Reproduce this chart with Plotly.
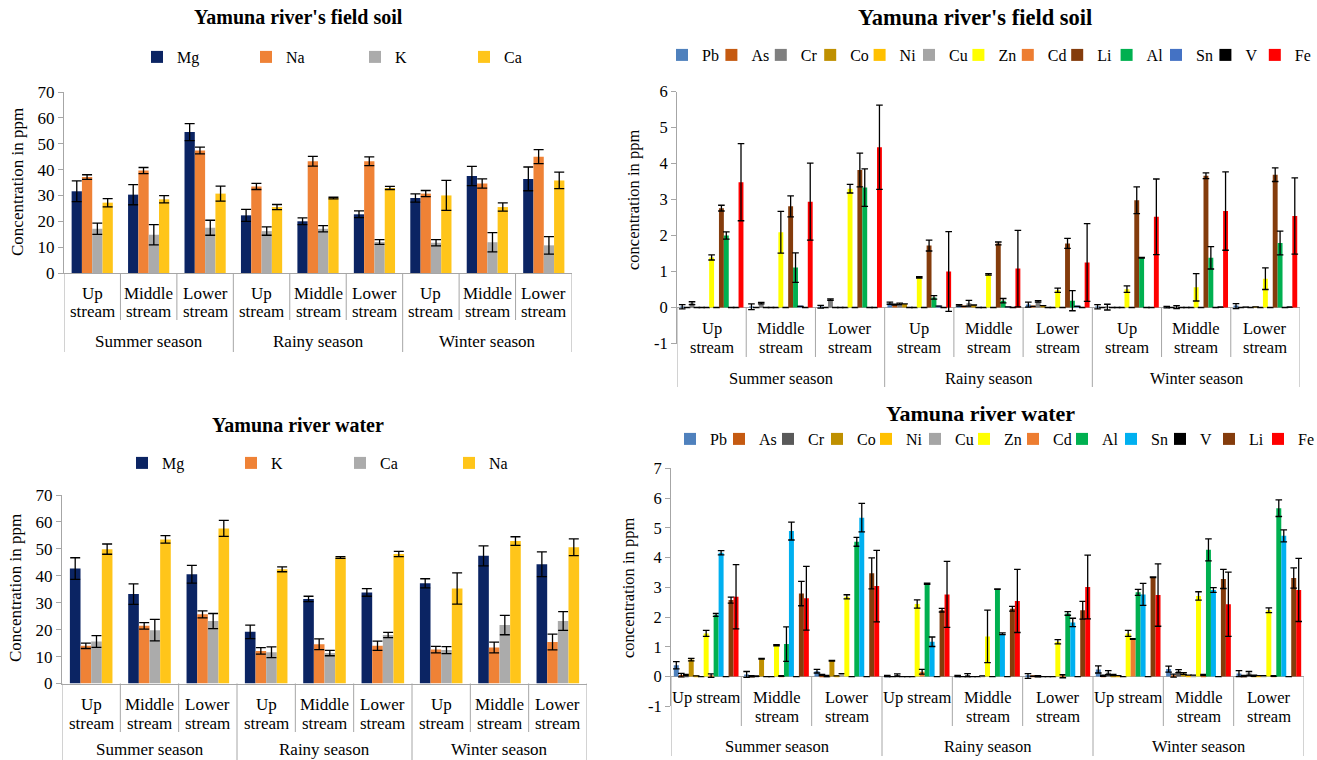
import plotly.graph_objects as go

W, H = 1317, 760
FONT = "Liberation Serif, Times New Roman, serif"

# ---------------------------------------------------------------- categories
streams = ["Up stream", "Middle stream", "Lower stream"]
seasons = ["Summer season", "Rainy season", "Winter season"]
sites = [(s, st) for s in seasons for st in streams]

# ---------------------------------------------------------------- field soil, major cations (ppm)
soil_major_names = ["Mg", "Na", "K", "Ca"]
soil_mg = [31.6, 30.3, 54.5, 22.3, 20.0, 22.7, 29.0, 37.5, 36.4]
soil_mg_err = [4.0, 3.9, 3.3, 2.3, 1.3, 1.3, 1.6, 3.7, 4.6]
soil_na = [37.1, 39.6, 47.4, 33.5, 43.2, 43.2, 30.7, 34.6, 45.0]
soil_na_err = [0.9, 1.2, 1.3, 1.2, 1.9, 1.7, 1.2, 1.8, 2.7]
soil_k = [17.1, 14.8, 17.5, 16.2, 17.1, 12.0, 11.7, 11.9, 10.7]
soil_k_err = [2.2, 3.9, 2.9, 1.6, 1.2, 0.9, 1.2, 3.7, 3.4]
soil_ca = [27.2, 28.5, 30.7, 25.5, 29.0, 32.9, 30.0, 25.5, 35.8]
soil_ca_err = [1.6, 1.4, 2.9, 1.0, 0.3, 0.6, 5.8, 1.6, 3.2]

# ---------------------------------------------------------------- river water, major cations (ppm)
water_major_names = ["Mg", "K", "Ca", "Na"]
water_mg = [42.7, 33.2, 40.6, 19.2, 31.4, 33.8, 37.2, 47.4, 44.3]
water_mg_err = [4.0, 3.8, 3.3, 2.5, 1.0, 1.4, 1.7, 3.7, 4.6]
water_k = [14.0, 21.4, 25.7, 12.1, 14.6, 14.0, 12.6, 13.4, 15.4]
water_k_err = [1.0, 1.2, 1.3, 1.2, 2.0, 1.7, 1.2, 2.0, 2.9]
water_ca = [15.6, 19.8, 23.2, 11.6, 11.3, 18.0, 12.4, 21.7, 23.2]
water_ca_err = [2.2, 4.0, 2.8, 2.0, 1.0, 1.0, 1.3, 3.6, 3.5]
water_na = [49.9, 53.5, 57.6, 42.4, 46.8, 48.1, 35.3, 52.9, 50.6]
water_na_err = [1.9, 1.4, 3.0, 0.9, 0.3, 1.0, 5.8, 1.6, 3.1]

# ---------------------------------------------------------------- field soil, trace metals (ppm)
soil_trace_names = ["Pb", "As", "Cr", "Co", "Ni", "Cu", "Zn", "Cd", "Li", "Al", "Sn", "V", "Fe"]
soil_pb = [0.02, 0.02, 0.02, 0.12, 0.06, 0.08, 0.02, 0.01, 0.04]
soil_pb_err = [0.06, 0.08, 0.04, 0.03, 0.02, 0.07, 0.06, 0.02, 0.07]
soil_as = [0.0, 0.0, 0.0, 0.08, 0.03, 0.03, 0.0, 0.0, 0.0]
soil_as_err = [0.0, 0.0, 0.0, 0.01, 0.0, 0.0, 0.0, 0.0, 0.0]
soil_cr = [0.12, 0.12, 0.22, 0.1, 0.12, 0.17, 0.01, 0.01, 0.01]
soil_cr_err = [0.04, 0.02, 0.02, 0.02, 0.08, 0.02, 0.08, 0.04, 0.0]
soil_co = [0.0, 0.0, 0.0, 0.1, 0.07, 0.05, 0.0, 0.0, 0.0]
soil_co_err = [0.0] * 9
soil_ni = [0.0, 0.0, 0.0, 0.0, 0.0, 0.0, 0.0, 0.0, 0.02]
soil_ni_err = [0.0] * 9
soil_cu = [0.0] * 9
soil_cu_err = [0.0] * 9
soil_zn = [1.39, 2.09, 3.3, 0.84, 0.92, 0.48, 0.51, 0.56, 0.8]
soil_zn_err = [0.07, 0.58, 0.12, 0.02, 0.02, 0.06, 0.09, 0.38, 0.3]
soil_cd = [0.0] * 9
soil_cd_err = [0.0] * 9
soil_li = [2.76, 2.81, 3.82, 1.72, 1.78, 1.78, 2.98, 3.66, 3.69]
soil_li_err = [0.08, 0.29, 0.47, 0.15, 0.04, 0.14, 0.37, 0.08, 0.19]
soil_al = [2.0, 1.11, 3.33, 0.28, 0.19, 0.19, 1.38, 1.38, 1.79]
soil_al_err = [0.1, 0.41, 0.52, 0.05, 0.06, 0.28, 0.01, 0.31, 0.33]
soil_sn = [0.0, 0.03, 0.0, 0.04, 0.02, 0.03, 0.0, 0.0, 0.0]
soil_sn_err = [0.0] * 9
soil_v = [0.0, 0.0, 0.0, 0.0, 0.0, 0.0, 0.0, 0.01, 0.01]
soil_v_err = [0.0] * 9
soil_fe = [3.48, 2.94, 4.45, 1.0, 1.08, 1.25, 2.52, 2.68, 2.54]
soil_fe_err = [1.07, 1.07, 1.17, 1.11, 1.06, 1.08, 1.05, 1.09, 1.06]

# ---------------------------------------------------------------- river water, trace metals (ppm)
water_trace_names = ["Pb", "As", "Cr", "Co", "Ni", "Cu", "Zn", "Cd", "Al", "Sn", "V", "Li", "Fe"]
water_pb = [0.38, 0.07, 0.18, 0.02, 0.02, 0.02, 0.24, 0.25, 0.1]
water_pb_err = [0.12, 0.1, 0.06, 0.02, 0.02, 0.08, 0.12, 0.1, 0.1]
water_as = [0.05, 0.01, 0.05, 0.0, 0.0, 0.01, 0.03, 0.03, 0.02]
water_as_err = [0.06, 0.02, 0.02, 0.0, 0.0, 0.0, 0.02, 0.05, 0.02]
water_cr = [0.05, 0.01, 0.02, 0.05, 0.05, 0.01, 0.13, 0.18, 0.1]
water_cr_err = [0.02, 0.0, 0.02, 0.04, 0.05, 0.02, 0.07, 0.05, 0.07]
water_co = [0.57, 0.6, 0.53, 0.0, 0.0, 0.0, 0.05, 0.1, 0.03]
water_co_err = [0.04, 0.01, 0.01, 0.0, 0.0, 0.0, 0.02, 0.03, 0.02]
water_ni = [0.02, 0.0, 0.02, 0.0, 0.0, 0.0, 0.03, 0.05, 0.03]
water_ni_err = [0.0] * 9
water_cu = [0.0, 0.0, 0.1, 0.0, 0.02, 0.0, 0.0, 0.05, 0.03]
water_cu_err = [0.0] * 9
water_zn = [1.45, 1.05, 2.68, 2.44, 1.35, 1.17, 1.45, 2.71, 2.23]
water_zn_err = [0.1, 0.02, 0.07, 0.14, 0.88, 0.07, 0.1, 0.14, 0.08]
water_cd = [0.03, 0.02, 0.0, 0.16, 0.0, 0.01, 1.26, 0.05, 0.02]
water_cd_err = [0.06, 0.01, 0.0, 0.08, 0.0, 0.05, 0.01, 0.02, 0.01]
water_al = [2.07, 1.09, 4.53, 3.12, 2.94, 2.12, 2.83, 4.26, 5.66]
water_al_err = [0.05, 0.58, 0.15, 0.02, 0.01, 0.06, 0.1, 0.37, 0.28]
water_sn = [4.16, 4.89, 5.34, 1.17, 1.44, 1.82, 2.76, 2.91, 4.73]
water_sn_err = [0.07, 0.3, 0.48, 0.16, 0.03, 0.14, 0.37, 0.08, 0.2]
water_v = [0.0] * 9
water_v_err = [0.0] * 9
water_li = [2.57, 2.79, 3.47, 2.23, 2.28, 2.23, 3.34, 3.28, 3.31]
water_li_err = [0.1, 0.41, 0.52, 0.06, 0.08, 0.3, 0.01, 0.32, 0.34]
water_fe = [2.68, 2.63, 3.04, 2.76, 2.54, 3.01, 2.74, 2.43, 2.91]
water_fe_err = [1.08, 1.07, 1.2, 1.11, 1.06, 1.07, 1.05, 1.08, 1.06]

# ---------------------------------------------------------------- colours
major_soil_colors = ["#0B2463", "#EF8236", "#ABABAB", "#FFC51A"]
major_water_colors = ["#0B2463", "#EF8236", "#ABABAB", "#FFC51A"]
soil_trace_colors = ["#4F81BD", "#C55A11", "#7F7F7F", "#BF9000", "#FFC000", "#A5A5A5",
                     "#FFFF00", "#ED7D31", "#843C0C", "#00B050", "#4472C4", "#000000", "#FF0000"]
water_trace_colors = ["#4F81BD", "#C55A11", "#595959", "#BF9000", "#FFC000", "#A5A5A5",
                      "#FFFF00", "#ED7D31", "#00B050", "#00B0F0", "#000000", "#843C0C", "#FF0000"]

AXIS_GRAY = "#A6A6A6"


def fx(x):
    return x / W


def fy(y):
    return 1 - y / H


panels = [
    dict(key="", title="Yamuna river's field soil", title_xy=(298, 17), title_size=20,
         names=soil_major_names, colors=major_soil_colors,
         values=[soil_mg, soil_na, soil_k, soil_ca],
         errors=[soil_mg_err, soil_na_err, soil_k_err, soil_ca_err],
         px_x=(64, 572), px_y=(92, 273), yrange=[0, 70], ticks=list(range(0, 71, 10)),
         zero_px=273, group=0.73, cap=5, font=17,
         line1=293, line2=311.5, season_y=341.5, cat_bottom=320, season_bottom=352,
         single_line=[], ytitle="Concentration in ppm", ytitle_xy=(18, 182),
         legend=dict(x0=164, y=57, step=109, size=16)),
    dict(key="2", title="Yamuna river's field soil", title_xy=(975, 17), title_size=22.5,
         names=soil_trace_names, colors=soil_trace_colors,
         values=[soil_pb, soil_as, soil_cr, soil_co, soil_ni, soil_cu, soil_zn, soil_cd,
                 soil_li, soil_al, soil_sn, soil_v, soil_fe],
         errors=[soil_pb_err, soil_as_err, soil_cr_err, soil_co_err, soil_ni_err, soil_cu_err,
                 soil_zn_err, soil_cd_err, soil_li_err, soil_al_err, soil_sn_err, soil_v_err,
                 soil_fe_err],
         px_x=(677, 1300), px_y=(91.5, 343.5), yrange=[-1, 6], ticks=list(range(-1, 7)),
         zero_px=307.5, group=0.92, cap=3.3, font=16.5,
         line1=328, line2=347.5, season_y=378, cat_bottom=357, season_bottom=387,
         single_line=[], ytitle="concentration in ppm", ytitle_xy=(634, 200),
         legend=dict(x0=689, y=55, step=49.4, size=16)),
    dict(key="3", title="Yamuna river water", title_xy=(298, 425), title_size=20,
         names=water_major_names, colors=major_water_colors,
         values=[water_mg, water_k, water_ca, water_na],
         errors=[water_mg_err, water_k_err, water_ca_err, water_na_err],
         px_x=(62, 587), px_y=(495, 683.5), yrange=[0, 70], ticks=list(range(0, 71, 10)),
         zero_px=683.5, group=0.73, cap=5, font=17,
         line1=704.5, line2=723, season_y=749.5, cat_bottom=732, season_bottom=760,
         single_line=[], ytitle="Concentration in ppm", ytitle_xy=(15, 588),
         legend=dict(x0=149, y=463, step=109, size=16)),
    dict(key="4", title="Yamuna river water", title_xy=(980, 413), title_size=22,
         names=water_trace_names, colors=water_trace_colors,
         values=[water_pb, water_as, water_cr, water_co, water_ni, water_cu, water_zn, water_cd,
                 water_al, water_sn, water_v, water_li, water_fe],
         errors=[water_pb_err, water_as_err, water_cr_err, water_co_err, water_ni_err,
                 water_cu_err, water_zn_err, water_cd_err, water_al_err, water_sn_err,
                 water_v_err, water_li_err, water_fe_err],
         px_x=(671, 1304), px_y=(468.3, 706.3), yrange=[-1, 7], ticks=list(range(-1, 8)),
         zero_px=676, group=0.92, cap=3.3, font=16.5,
         line1=697, line2=716, season_y=746, cat_bottom=726, season_bottom=756,
         single_line=["Up stream"], ytitle="concentration in ppm", ytitle_xy=(628, 588),
         legend=dict(x0=697, y=439, step=49, size=16)),
]

positions = list(range(len(sites)))
LEGEND_SHIFT = 7  # legend symbol sits 20 px into each entry, its text 40 px

fig = go.Figure()
layout = dict(width=W, height=H, margin=dict(l=0, r=0, t=0, b=0, autoexpand=False),
              paper_bgcolor="white", plot_bgcolor="white", barmode="overlay",
              font=dict(family=FONT, color="black"), showlegend=True)
annotations = []
shapes = []

for p in panels:
    k = p["key"]
    xa, ya = "x" + k, "y" + k
    legend_name = "legend" + k
    lg = p["legend"]
    n = len(p["names"])
    w = p["group"] / n
    for i, (name, vals, errs, col) in enumerate(zip(p["names"], p["values"], p["errors"], p["colors"])):
        # the last entry keeps room for its own text so it is not clipped
        entry_w = lg["step"] - 45 if i < n - 1 else max(lg["step"] - 45, 26)
        fig.add_trace(go.Bar(
            x=positions, y=vals, name=name, width=w, offset=-p["group"] / 2 + i * w,
            marker=dict(color=col, line=dict(width=0)),
            error_y=dict(type="data", array=errs, visible=True, color="black",
                         thickness=1.3, width=p["cap"]),
            xaxis=xa, yaxis=ya, legend=legend_name, legendwidth=entry_w,
        ))

    left_panel = p["yrange"][0] == 0
    layout["xaxis" + k] = dict(
        domain=[fx(p["px_x"][0]), fx(p["px_x"][1])], range=[-0.5, len(sites) - 0.5],
        anchor=ya, showticklabels=False, ticks="", showgrid=False, zeroline=False,
        showline=left_panel, linecolor=AXIS_GRAY, linewidth=1, fixedrange=True)
    layout["yaxis" + k] = dict(
        domain=[fy(p["px_y"][1]), fy(p["px_y"][0])], range=p["yrange"], anchor=xa,
        tickvals=p["ticks"], ticktext=[str(t) for t in p["ticks"]],
        showgrid=False, showline=True, linecolor=AXIS_GRAY, linewidth=1,
        ticks="outside", ticklen=5, tickcolor=AXIS_GRAY,
        tickfont=dict(family=FONT, size=p["font"], color="black"),
        zeroline=not left_panel, zerolinecolor=AXIS_GRAY, zerolinewidth=1, fixedrange=True)

    layout[legend_name] = dict(
        orientation="h", x=fx(lg["x0"] - 20 - LEGEND_SHIFT), xanchor="left",
        y=fy(lg["y"]), yanchor="middle",
        font=dict(family=FONT, size=lg["size"], color="black"),
        entrywidth=lg["step"] - 45, entrywidthmode="pixels",
        bgcolor="rgba(0,0,0,0)", borderwidth=0, traceorder="normal")

    # chart title
    annotations.append(dict(text="<b>" + p["title"] + "</b>", xref="paper", yref="paper",
                            x=fx(p["title_xy"][0]), y=fy(p["title_xy"][1]),
                            showarrow=False, xanchor="center", yanchor="middle",
                            font=dict(family=FONT, size=p["title_size"], color="black")))
    # y-axis title
    annotations.append(dict(text=p["ytitle"], xref="paper", yref="paper",
                            x=fx(p["ytitle_xy"][0]), y=fy(p["ytitle_xy"][1]), textangle=-90,
                            showarrow=False, xanchor="center", yanchor="middle",
                            font=dict(family=FONT, size=p["font"], color="black")))

    # two-level category labels
    for pos, (season, stream) in zip(positions, sites):
        lines = [stream] if stream in p["single_line"] else stream.split(" ")
        for line, ypx in zip(lines, [p["line1"], p["line2"]]):
            annotations.append(dict(text=line, xref=xa, yref="paper", x=pos, y=fy(ypx),
                                    showarrow=False, xanchor="center", yanchor="middle",
                                    font=dict(family=FONT, size=p["font"], color="black")))
    n_str = len(streams)
    for j, season in enumerate(seasons):
        annotations.append(dict(text=season, xref=xa, yref="paper", x=j * n_str + (n_str - 1) / 2,
                                y=fy(p["season_y"]), showarrow=False,
                                xanchor="center", yanchor="middle",
                                font=dict(family=FONT, size=p["font"], color="black")))

    # divider lines between categories and between seasons
    for b in range(len(sites) + 1):
        xb = b - 0.5
        bottom = p["season_bottom"] if b % n_str == 0 else p["cat_bottom"]
        shapes.append(dict(type="line", xref=xa, yref="paper", x0=xb, x1=xb,
                           y0=fy(p["zero_px"]), y1=fy(bottom),
                           line=dict(color=AXIS_GRAY, width=1)))

layout["annotations"] = annotations
layout["shapes"] = shapes
fig.update_layout(**layout)
fig.write_html("out.html")
